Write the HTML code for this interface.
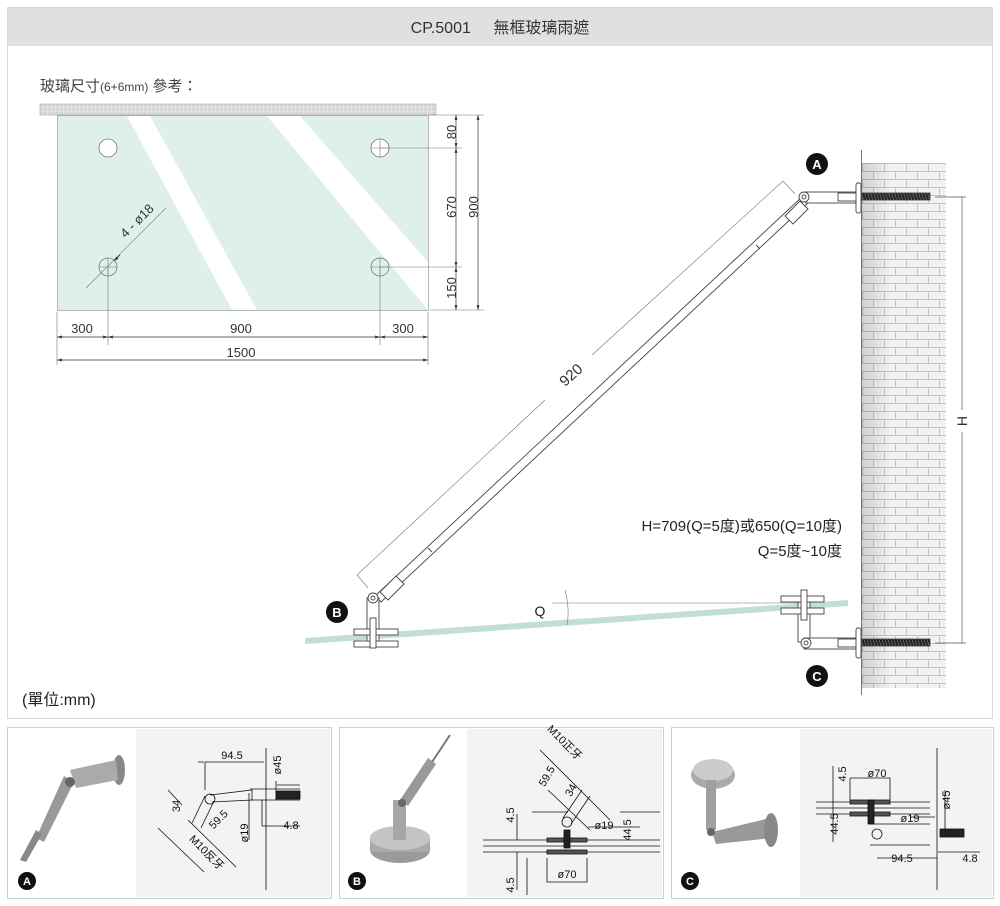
<!DOCTYPE html>
<html><head><meta charset="utf-8"><style>
html,body{margin:0;padding:0;background:#fff;}
svg{display:block;}
text{font-family:"Liberation Sans","Noto Sans CJK TC",sans-serif;}
</style></head><body>
<svg width="1000" height="906" viewBox="0 0 1000 906" xmlns="http://www.w3.org/2000/svg">
<defs>
<pattern id="hatch" width="4" height="4" patternUnits="userSpaceOnUse">
<rect width="4" height="4" fill="#eee"/><path d="M0 0H4M0 2H4M0 0V4M2 0V4" stroke="#bbb" stroke-width="0.6"/>
</pattern>
<pattern id="brick" x="862" y="163" width="44" height="16" patternUnits="userSpaceOnUse">
<rect width="44" height="16" fill="#f2f2f2"/>
<path d="M0 0.5H44M0 8.5H44M0.5 0V8M22.5 0V8M11.5 8V16M33.5 8V16" stroke="#c4c4c4" stroke-width="1"/>
</pattern>
<linearGradient id="wallshade" x1="0" x2="1" y1="0" y2="0">
<stop offset="0" stop-color="#000" stop-opacity="0.14"/><stop offset="0.35" stop-color="#000" stop-opacity="0"/>
</linearGradient>
<pattern id="bolt" width="3" height="8" patternUnits="userSpaceOnUse">
<rect width="3" height="8" fill="#222"/><path d="M0 0L3 8" stroke="#777" stroke-width="0.7"/>
</pattern>
<marker id="ar" viewBox="0 0 10 10" refX="10" refY="5" markerWidth="7" markerHeight="7" orient="auto-start-reverse"><path d="M0 2L10 5L0 8z" fill="#333"/></marker>
</defs>

<rect x="7.5" y="7.5" width="985" height="711" fill="#fff" stroke="#d8d8d8"/>
<rect x="8" y="8" width="984" height="38" fill="#e0e0e0"/>
<text x="500" y="33" font-size="16" text-anchor="middle" fill="#333">CP.5001 <tspan dx="18">無框玻璃雨遮</tspan></text>

<text x="40" y="91" font-size="15" fill="#444">玻璃尺寸<tspan font-size="12">(6+6mm)</tspan> 參考：</text>

<rect x="40" y="104" width="396" height="11" fill="url(#hatch)" stroke="#aaa" stroke-width="0.6"/>
<rect x="57.5" y="115.5" width="371" height="195" fill="#dff0ea" stroke="#9a9a9a" stroke-width="0.7"/>
<polygon points="127,116 150,116 257,310 232,310" fill="#fff"/>
<polygon points="267,116 300,116 428,262 428,310" fill="#fff"/>
<g fill="#fff" stroke="#777" stroke-width="0.8">
<circle cx="108" cy="148" r="9"/><circle cx="380" cy="148" r="9"/><circle cx="108" cy="267" r="9" fill="none"/><circle cx="380" cy="267" r="9" fill="none"/>
</g>
<g stroke="#777" stroke-width="0.6" fill="none">
<path d="M371 148H389M380 139V157M371 267H389M380 258V276M99 267H117M108 258V276"/>
<path d="M380 148H462M380 267H462M430 115H484M430 310H484M108 267V345M380 267V345M57 312V365M428 312V365"/>
<path d="M86 288L166 208"/>
</g>
<g stroke="#333" stroke-width="0.7" fill="none">
<path d="M456 115V148" marker-start="url(#ar)" marker-end="url(#ar)"/>
<path d="M456 148V267" marker-start="url(#ar)" marker-end="url(#ar)"/>
<path d="M456 267V310" marker-start="url(#ar)" marker-end="url(#ar)"/>
<path d="M478 115V310" marker-start="url(#ar)" marker-end="url(#ar)"/>
<path d="M57 337H108" marker-start="url(#ar)" marker-end="url(#ar)"/>
<path d="M108 337H380" marker-start="url(#ar)" marker-end="url(#ar)"/>
<path d="M380 337H428" marker-start="url(#ar)" marker-end="url(#ar)"/>
<path d="M57 360H428" marker-start="url(#ar)" marker-end="url(#ar)"/>
<path d="M120 255L114 261" marker-end="url(#ar)"/>
</g>
<g font-size="13" fill="#333" text-anchor="middle">
<text transform="translate(452,132) rotate(-90)" dy="4">80</text>
<text transform="translate(452,207) rotate(-90)" dy="4">670</text>
<text transform="translate(452,288) rotate(-90)" dy="4">150</text>
<text transform="translate(474,207) rotate(-90)" dy="4">900</text>
<text x="82" y="333">300</text><text x="241" y="333">900</text><text x="403" y="333">300</text>
<text x="241" y="357">1500</text>
<text transform="translate(140,224) rotate(-45)">4 - ø18</text>
</g>

<line x1="861.5" y1="150" x2="861.5" y2="695" stroke="#777" stroke-width="1"/>
<rect x="862" y="163" width="84" height="525" fill="url(#brick)"/>
<rect x="862" y="163" width="84" height="525" fill="url(#wallshade)"/>

<g stroke="#555" stroke-width="0.7"><path d="M935 197H966M935 643H966M962 197V410M962 432V643"/></g>
<text transform="translate(962,421) rotate(-90)" font-size="14" text-anchor="middle" dy="5" fill="#333">H</text>

<polygon points="305,638 848,600 848,606 305,644" fill="#c3dfcf"/>

<g stroke="#777" stroke-width="0.6"><path d="M357 575L545 400M592 355L783 181M357 575L368 588M783 181L795 194"/></g>
<text transform="translate(571,375) rotate(-42)" font-size="15" text-anchor="middle" dy="5" fill="#333">920</text>

<g stroke="#444" stroke-width="0.9" fill="#fff">
<polygon points="375,596 381,602 810,201 804,195"/>
<polygon points="380,592 396,576 404,584 388,600" />
<polygon points="785,216 800,201 808,209 793,224"/>
<path d="M428 548L432 552M756 245L760 249" />
</g>
<g stroke="#444" stroke-width="0.9" fill="#fff">
<rect x="806" y="192" width="50" height="11"/>
<rect x="838" y="193" width="22" height="8"/>
<rect x="856" y="183" width="5" height="30" rx="2"/>
<rect x="862" y="193" width="68" height="7" fill="url(#bolt)"/>
<circle cx="804" cy="197" r="5"/><circle cx="804" cy="197" r="2"/>
</g>
<g stroke="#444" stroke-width="0.9" fill="#fff">
<rect x="367" y="598" width="12" height="46"/>
<circle cx="373" cy="598" r="5"/><circle cx="373" cy="598" r="2"/>
<rect x="354" y="629" width="44" height="6"/>
<rect x="354" y="641" width="44" height="6"/>
<rect x="370" y="618" width="6" height="30"/>
</g>
<g stroke="#444" stroke-width="0.9" fill="#fff">
<rect x="798" y="600" width="12" height="42"/>
<rect x="781" y="596" width="43" height="6"/>
<rect x="781" y="608" width="43" height="6"/>
<rect x="801" y="590" width="6" height="30"/>
<rect x="804" y="638" width="52" height="11"/>
<rect x="838" y="639" width="22" height="8"/>
<rect x="856" y="628" width="5" height="30" rx="2"/>
<rect x="862" y="639" width="68" height="7" fill="url(#bolt)"/>
<circle cx="806" cy="643" r="5"/><circle cx="806" cy="643" r="2"/>
</g>

<g stroke="#777" stroke-width="0.6" fill="none"><path d="M552 603H800"/><path d="M565 590Q570 610 567 625"/></g>
<text x="540" y="616" font-size="14" text-anchor="middle" fill="#222">Q</text>

<g font-size="13" font-weight="bold" text-anchor="middle" fill="#fff">
<circle cx="817" cy="164" r="11" fill="#111"/><text x="817" y="169">A</text>
<circle cx="337" cy="612" r="11" fill="#111"/><text x="337" y="617">B</text>
<circle cx="817" cy="676" r="11" fill="#111"/><text x="817" y="681">C</text>
</g>
<text x="842" y="531" font-size="15" text-anchor="end" fill="#222">H=709(Q=5度)或650(Q=10度)</text>
<text x="842" y="556" font-size="15" text-anchor="end" fill="#222">Q=5度~10度</text>
<text x="22" y="705" font-size="16" fill="#222">(單位:mm)</text>

<g stroke="#d0d0d0" fill="#fff">
<rect x="7.5" y="727.5" width="324" height="171"/>
<rect x="339.5" y="727.5" width="324" height="171"/>
<rect x="671.5" y="727.5" width="322" height="171"/>
</g>
<rect x="136" y="729" width="194" height="168" fill="#f3f3f3"/>
<rect x="467" y="729" width="195" height="168" fill="#f3f3f3"/>
<rect x="800" y="729" width="192" height="168" fill="#f3f3f3"/>

<g>
<ellipse cx="119" cy="770" rx="6" ry="15" fill="#888"/>
<polygon points="70,770 116,760 118,780 76,788" fill="#aaa"/>
<polygon points="36,838 64,776 74,782 44,842" fill="#999"/>
<polygon points="20,860 36,830 42,834 26,862" fill="#888"/>
<circle cx="70" cy="782" r="5" fill="#666"/>
</g>
<g>
<ellipse cx="400" cy="850" rx="30" ry="13" fill="#9a9a9a"/>
<rect x="370" y="838" width="60" height="14" fill="#aaa"/>
<ellipse cx="400" cy="838" rx="30" ry="12" fill="#c4c4c4"/>
<rect x="393" y="800" width="13" height="40" fill="#a6a6a6"/>
<polygon points="400,800 428,758 436,764 408,806" fill="#999"/>
<line x1="432" y1="762" x2="450" y2="735" stroke="#777" stroke-width="2"/>
<circle cx="402" cy="803" r="4" fill="#666"/>
</g>
<g>
<ellipse cx="713" cy="775" rx="22" ry="14" fill="#aaa"/>
<ellipse cx="713" cy="770" rx="20" ry="11" fill="#ccc"/>
<rect x="706" y="780" width="10" height="50" fill="#a0a0a0"/>
<polygon points="712,832 770,818 772,838 716,844" fill="#999"/>
<ellipse cx="771" cy="830" rx="7" ry="17" fill="#888"/>
<circle cx="711" cy="832" r="4" fill="#666"/>
</g>
<g font-size="11" font-weight="bold" text-anchor="middle" fill="#fff">
<circle cx="27" cy="881" r="9" fill="#111"/><text x="27" y="885">A</text>
<circle cx="357" cy="881" r="9" fill="#111"/><text x="357" y="885">B</text>
<circle cx="690" cy="881" r="9" fill="#111"/><text x="690" y="885">C</text>
</g>

<g stroke="#111" stroke-width="0.8" fill="none">
<path d="M266 748V890M276 781V800M277 785H300M250 789H300M250 800H300"/>
<rect x="276" y="791" width="24" height="8" fill="#222"/>
<path d="M210 795L252 790L252 800L212 802"/>
<circle cx="210" cy="799" r="5"/>
<path d="M205 796L192 823M214 801L201 828"/>
<path d="M205 762H264M205 762V790M204 762L198 762M168 790L182 805M158 828L204 872M188 820L236 867M262 826H300M262 826V800M249 793V840"/>
</g>
<g font-size="11" fill="#111" text-anchor="middle">
<text x="232" y="759">94.5</text>
<text transform="translate(281,765) rotate(-90)">ø45</text>
<text x="291" y="829">4.8</text>
<text transform="translate(180,806) rotate(-90)">34</text>
<text transform="translate(221,822) rotate(-45)">59.5</text>
<text transform="translate(248,833) rotate(-90)">ø19</text>
<text transform="translate(204,855) rotate(45)">M10反牙</text>
</g>

<g stroke="#111" stroke-width="0.8" fill="none">
<path d="M483 840H660M483 846H660M483 852H660"/>
<rect x="547" y="838" width="40" height="4" fill="#555"/>
<rect x="547" y="850" width="40" height="4" fill="#555"/>
<rect x="564" y="830" width="6" height="18" fill="#222"/>
<circle cx="567" cy="822" r="5"/>
<path d="M563 818L582 790M571 824L590 796M540 750L610 820M548 790L590 830M532 812H568M620 812H660M517 814V840M517 852V890M527 858V895"/>
<path d="M547 858V882H587V858M588 827H640"/>
</g>
<g font-size="11" fill="#111" text-anchor="middle">
<text transform="translate(562,745) rotate(45)">M10正牙</text>
<text transform="translate(550,778) rotate(-60)">59.5</text>
<text transform="translate(574,792) rotate(-60)">34</text>
<text transform="translate(514,815) rotate(-90)">4.5</text>
<text x="604" y="829">ø19</text>
<text transform="translate(631,830) rotate(-90)">44.5</text>
<text x="567" y="878">ø70</text>
<text transform="translate(514,885) rotate(-90)">4.5</text>
</g>

<g stroke="#111" stroke-width="0.8" fill="none">
<path d="M816 802H930M816 808H930M816 814H930M937 748V890"/>
<rect x="850" y="800" width="40" height="4" fill="#555"/>
<rect x="850" y="812" width="40" height="4" fill="#555"/>
<rect x="868" y="800" width="6" height="24" fill="#222"/>
<circle cx="877" cy="834" r="5"/>
<path d="M870 824H930M870 845H930"/>
<rect x="940" y="829" width="24" height="8" fill="#222"/>
<path d="M850 778V800M850 778H890V800M833 766V842M910 817H935M877 858H937M938 852H980M945 790V830"/>
</g>
<g font-size="11" fill="#111" text-anchor="middle">
<text transform="translate(846,774) rotate(-90)">4.5</text>
<text x="877" y="777">ø70</text>
<text transform="translate(950,800) rotate(-90)">ø45</text>
<text x="910" y="822">ø19</text>
<text transform="translate(838,824) rotate(-90)">44.5</text>
<text x="902" y="862">94.5</text>
<text x="970" y="862">4.8</text>
</g>
</svg>
</body></html>
